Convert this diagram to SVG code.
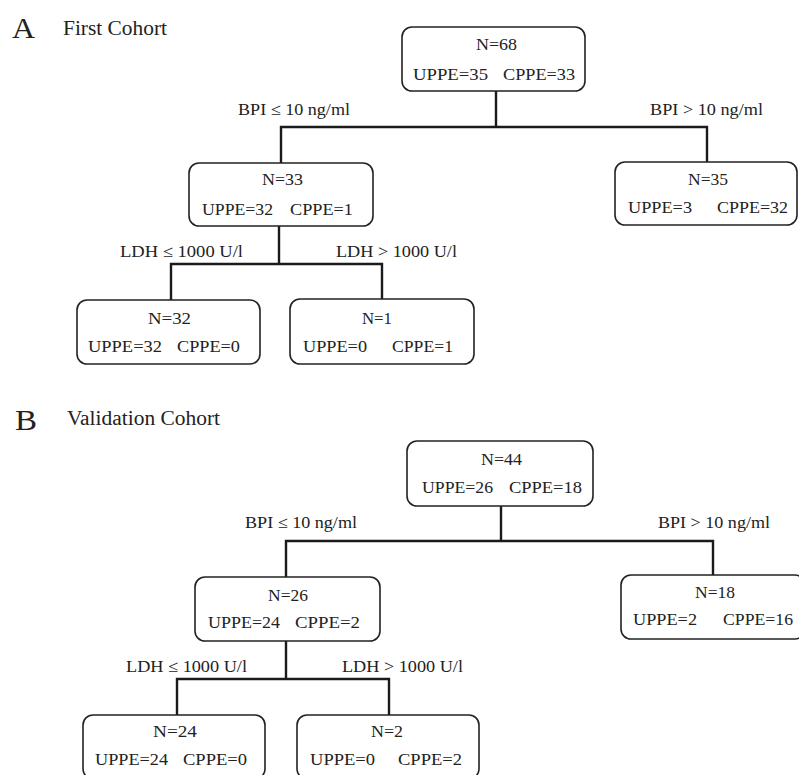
<svg xmlns="http://www.w3.org/2000/svg" width="799" height="775" viewBox="0 0 799 775">
<style>
.bg{fill:#ffffff}
.box{fill:#ffffff;stroke:#222;stroke-width:1.6}
.ln{fill:none;stroke:#1a1a1a;stroke-width:2.4}
text{font-family:"Liberation Serif","Times New Roman",serif;fill:#222}
.t{font-size:16.5px}
.h{font-size:20px}
.L{font-size:30px}
</style>
<rect class="bg" x="0" y="0" width="799" height="775"/>
<g id="titles">
<text class="L" x="12" y="38" textLength="23" lengthAdjust="spacingAndGlyphs">A</text>
<text class="h" x="63" y="35" textLength="104" lengthAdjust="spacingAndGlyphs">First Cohort</text>
<text class="L" x="15" y="430" textLength="22" lengthAdjust="spacingAndGlyphs">B</text>
<text class="h" x="67" y="425" textLength="153" lengthAdjust="spacingAndGlyphs">Validation Cohort</text>
</g>
<g id="connectors">
<path class="ln" d="M496 91V127M281 163V127H707V162"/>
<path class="ln" d="M279 226V264M171 300V264H382V299"/>
<path class="ln" d="M501 506V541M286 577V541H713V575"/>
<path class="ln" d="M286 641V679M177 715V679H389V715"/>
</g>
<g id="labels">
<text class="t" x="238" y="115" textLength="112" lengthAdjust="spacingAndGlyphs">BPI ≤ 10 ng/ml</text>
<text class="t" x="650" y="115" textLength="113" lengthAdjust="spacingAndGlyphs">BPI &gt; 10 ng/ml</text>
<text class="t" x="120" y="257" textLength="123" lengthAdjust="spacingAndGlyphs">LDH ≤ 1000 U/l</text>
<text class="t" x="336" y="257" textLength="121" lengthAdjust="spacingAndGlyphs">LDH &gt; 1000 U/l</text>
<text class="t" x="245" y="528" textLength="112" lengthAdjust="spacingAndGlyphs">BPI ≤ 10 ng/ml</text>
<text class="t" x="658" y="528" textLength="112" lengthAdjust="spacingAndGlyphs">BPI &gt; 10 ng/ml</text>
<text class="t" x="126" y="672" textLength="121" lengthAdjust="spacingAndGlyphs">LDH ≤ 1000 U/l</text>
<text class="t" x="342" y="672" textLength="121" lengthAdjust="spacingAndGlyphs">LDH &gt; 1000 U/l</text>
</g>
<g id="nA1">
<rect class="box" x="402" y="27" width="183" height="64" rx="10"/>
<text class="t" x="476" y="50" textLength="41" lengthAdjust="spacingAndGlyphs">N=68</text>
<text class="t" x="413" y="80" textLength="75" lengthAdjust="spacingAndGlyphs">UPPE=35</text>
<text class="t" x="503" y="80" textLength="72" lengthAdjust="spacingAndGlyphs">CPPE=33</text>
</g>
<g id="nA2">
<rect class="box" x="189" y="163" width="184" height="63" rx="10"/>
<text class="t" x="262" y="185" textLength="41" lengthAdjust="spacingAndGlyphs">N=33</text>
<text class="t" x="202" y="215" textLength="71" lengthAdjust="spacingAndGlyphs">UPPE=32</text>
<text class="t" x="290" y="215" textLength="63" lengthAdjust="spacingAndGlyphs">CPPE=1</text>
</g>
<g id="nA3">
<rect class="box" x="615" y="162" width="182" height="63" rx="10"/>
<text class="t" x="688" y="185" textLength="40" lengthAdjust="spacingAndGlyphs">N=35</text>
<text class="t" x="628" y="213" textLength="64" lengthAdjust="spacingAndGlyphs">UPPE=3</text>
<text class="t" x="717" y="213" textLength="71" lengthAdjust="spacingAndGlyphs">CPPE=32</text>
</g>
<g id="nA4">
<rect class="box" x="77" y="300" width="183" height="64" rx="10"/>
<text class="t" x="148" y="324" textLength="43" lengthAdjust="spacingAndGlyphs">N=32</text>
<text class="t" x="88" y="352" textLength="74" lengthAdjust="spacingAndGlyphs">UPPE=32</text>
<text class="t" x="177" y="352" textLength="63" lengthAdjust="spacingAndGlyphs">CPPE=0</text>
</g>
<g id="nA5">
<rect class="box" x="290" y="299" width="184" height="65" rx="10"/>
<text class="t" x="362" y="324" textLength="30" lengthAdjust="spacingAndGlyphs">N=1</text>
<text class="t" x="303" y="352" textLength="64" lengthAdjust="spacingAndGlyphs">UPPE=0</text>
<text class="t" x="392" y="352" textLength="61" lengthAdjust="spacingAndGlyphs">CPPE=1</text>
</g>
<g id="nB1">
<rect class="box" x="407" y="441" width="186" height="65" rx="10"/>
<text class="t" x="481" y="465" textLength="41" lengthAdjust="spacingAndGlyphs">N=44</text>
<text class="t" x="422" y="493" textLength="71" lengthAdjust="spacingAndGlyphs">UPPE=26</text>
<text class="t" x="509" y="493" textLength="73" lengthAdjust="spacingAndGlyphs">CPPE=18</text>
</g>
<g id="nB2">
<rect class="box" x="195" y="577" width="185" height="64" rx="10"/>
<text class="t" x="268" y="601" textLength="40" lengthAdjust="spacingAndGlyphs">N=26</text>
<text class="t" x="208" y="628" textLength="72" lengthAdjust="spacingAndGlyphs">UPPE=24</text>
<text class="t" x="295" y="628" textLength="65" lengthAdjust="spacingAndGlyphs">CPPE=2</text>
</g>
<g id="nB3">
<rect class="box" x="621" y="575" width="184" height="64" rx="10"/>
<text class="t" x="695" y="598" textLength="40" lengthAdjust="spacingAndGlyphs">N=18</text>
<text class="t" x="633" y="625" textLength="64" lengthAdjust="spacingAndGlyphs">UPPE=2</text>
<text class="t" x="723" y="625" textLength="70" lengthAdjust="spacingAndGlyphs">CPPE=16</text>
</g>
<g id="nB4">
<rect class="box" x="83" y="715" width="182" height="64" rx="10"/>
<text class="t" x="153" y="737" textLength="44" lengthAdjust="spacingAndGlyphs">N=24</text>
<text class="t" x="95" y="765" textLength="73" lengthAdjust="spacingAndGlyphs">UPPE=24</text>
<text class="t" x="183" y="765" textLength="64" lengthAdjust="spacingAndGlyphs">CPPE=0</text>
</g>
<g id="nB5">
<rect class="box" x="297" y="715" width="182" height="64" rx="10"/>
<text class="t" x="371" y="737" textLength="32" lengthAdjust="spacingAndGlyphs">N=2</text>
<text class="t" x="310" y="765" textLength="65" lengthAdjust="spacingAndGlyphs">UPPE=0</text>
<text class="t" x="398" y="765" textLength="64" lengthAdjust="spacingAndGlyphs">CPPE=2</text>
</g>
</svg>
